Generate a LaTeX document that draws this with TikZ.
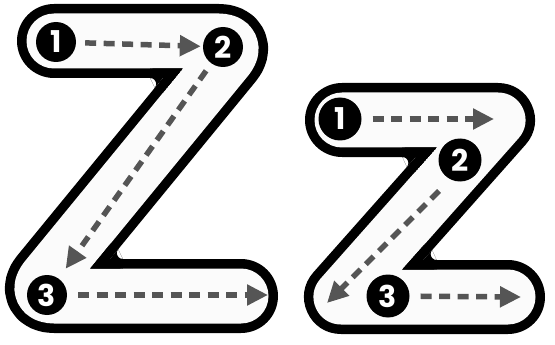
\documentclass[tikz,border=0pt]{standalone}
\usepackage{fontspec}
\newfontfamily\numfont{Poppins}[BoldFont=* Bold]
\usetikzlibrary{arrows.meta}
\definecolor{fillgray}{HTML}{FBFBFB}
\definecolor{dashgray}{HTML}{555555}
\tikzset{
  outline/.style={line width=74pt, line join=round, line cap=round, black},
  inner/.style={line width=55pt, line join=round, line cap=round, fillgray},
  num/.style={circle, fill=black, text=white, minimum size=#1, inner sep=0pt,
    font=\numfont\bfseries\fontsize{30}{30}\selectfont},
  guide/.style={draw=dashgray, line width=5.5pt, dash pattern=on 11pt off 7.5pt,
    -{Triangle[length=21pt,width=20pt]}},
}
% rounded inner corner: tip, tangent 1, tangent 2, centre, radius
\newcommand\cornerround[5]{%
  \begin{scope}
    \clip #1 -- #2 -- #3 -- cycle;
    \fill[black, even odd rule] #1 -- #2 -- #3 -- cycle #4 circle[radius=#5pt];
  \end{scope}}
\begin{document}
\begin{tikzpicture}[x=1pt,y=-1pt]
\useasboundingbox (0,0) rectangle (555,345);
% big Z
\draw[outline, rounded corners=22pt] (54,41) -- (241,41) -- (32,296) -- (241,296);
\draw[inner, rounded corners=22pt] (54,41) -- (241,41) -- (32,296) -- (241,296);
\cornerround{(162.84,78)}{(150.16,78)}{(154.80,87.81)}{(150.16,84.0)}{6}
\cornerround{(182.90,68.5)}{(150.15,68.5)}{(162.14,93.83)}{(150.16,84.0)}{15.5}
\cornerround{(110.16,259)}{(122.84,259)}{(118.20,249.19)}{(122.84,253.0)}{6}
\cornerround{(90.10,268.5)}{(122.85,268.5)}{(110.86,243.17)}{(122.84,253.0)}{15.5}
% small z
\draw[outline] (342,120) -- (498,120) -- (341,297) -- (508,297);
\draw[inner] (342,120) -- (498,120) -- (341,297) -- (508,297);
\cornerround{(415.72,157)}{(402.38,157)}{(406.87,166.98)}{(402.38,163.0)}{6}
\cornerround{(436.85,147.5)}{(402.38,147.5)}{(413.98,173.29)}{(402.38,163.0)}{15.5}
\cornerround{(423.28,260)}{(436.62,260)}{(432.13,250.02)}{(436.62,254.0)}{6}
\cornerround{(402.15,269.5)}{(436.62,269.5)}{(425.02,243.71)}{(436.62,254.0)}{15.5}
% numbers big
\node[num=40pt] (b1) at (56,42) {1};
\node[num=40pt] (b2) at (223,47) {2};
\node[num=40pt] (b3) at (47,295) {3};
\coordinate (b3end) at (268,295);
% numbers small
\node[num=43pt] (s1) at (340,119) {1};
\node[num=43pt] (s2) at (460,160) {2};
\node[num=43pt] (s3) at (388,296) {3};
\coordinate (s1end) at (494,119);
\coordinate (s2start) at (439,191);
\coordinate (s2end) at (327,303);
\coordinate (s3end) at (521,297);
% guides
\draw[guide, shorten <=9pt, shorten >=2pt] (b1) -- (b2);
\draw[guide, shorten <=9pt, shorten >=12pt] (b2) -- (b3);
\draw[guide, shorten <=11pt] (b3) -- (b3end);
\draw[guide, shorten <=11pt] (s1) -- (s1end);
\draw[guide] (s2start) -- (s2end);
\draw[guide, shorten <=11pt] (s3) -- (s3end);
\end{tikzpicture}
\end{document}
